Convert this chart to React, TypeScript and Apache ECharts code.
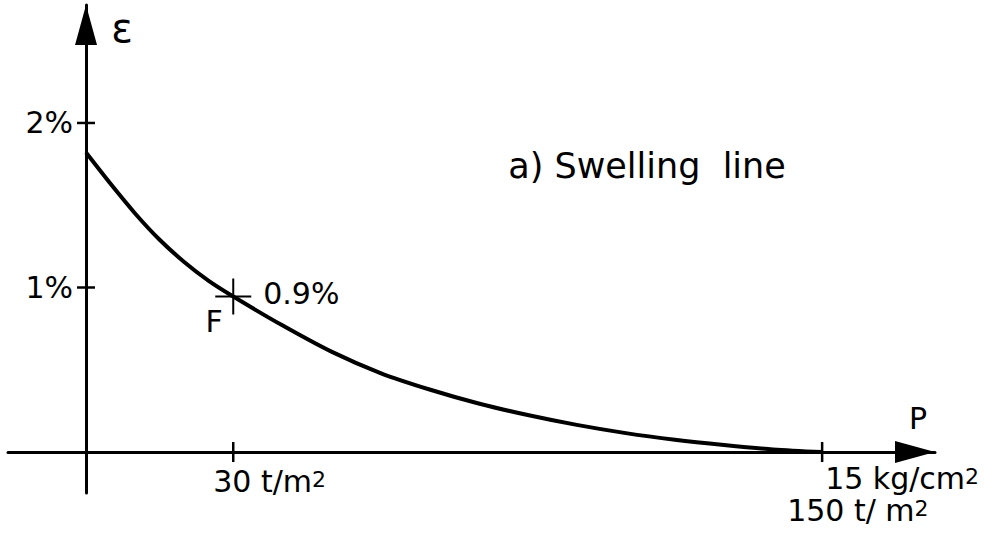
import React, { useEffect, useRef } from "react";
import * as echarts from "echarts";

// Swelling line: pressure P (t/m²) vs strain ε (%)
const pressureT = [0, 5, 10, 15, 20, 25, 30, 40, 50, 60, 70, 80, 90, 100, 110, 120, 130, 140, 150];
const strainPct = [1.82, 1.63, 1.45, 1.29, 1.155, 1.04, 0.945, 0.77, 0.61, 0.48, 0.38, 0.295, 0.225, 0.165, 0.115, 0.075, 0.043, 0.016, 0];

const yTicks = [1, 2];
const yTickLabels = ["1%", "2%"];
const xTicks = [30, 150];
const xTickLabels = ["30 t/m", "15 kg/cm"];
const xTickSecondLabel = "150 t/ m";
const pointF = [30, 0.945];
const pointFValue = "0.9%";
const pointFName = "F";
const titleText = "a) Swelling  line";
const xName = "P";
const yName = "ε";

const FONT = "DejaVu Sans";
const FS = 30;

export default function App() {
  const ref = useRef<HTMLDivElement>(null);
  useEffect(() => {
    if (!ref.current) return;
    const chart = echarts.init(ref.current, undefined, { renderer: "svg" });
    const rich = {
      a: { fontSize: FS, fontFamily: FONT, color: "#000", lineHeight: 26 },
      s: { fontSize: 22, fontFamily: FONT, color: "#000", verticalAlign: "top", lineHeight: 18 },
    };
    const axisCommon = {
      type: "value",
      axisLine: {
        show: true,
        onZero: true,
        symbol: ["none", "triangle"],
        symbolSize: [22, 40],
        symbolOffset: [0, -20],
        lineStyle: { color: "#000", width: 3 },
      },
      axisTick: { show: false },
      axisLabel: { show: false },
      splitLine: { show: false },
    };
    const labelBase = {
      show: true,
      fontSize: FS,
      fontFamily: FONT,
      color: "#000",
      opacity: 1,
    };
    chart.setOption({
      animation: false,
      backgroundColor: "#fff",
      grid: { left: 8, right: 60, top: 5, bottom: 46, containLabel: false, outerBoundsMode: "none" },
      xAxis: { ...axisCommon, min: -15.9, max: 173 },
      yAxis: { ...axisCommon, min: -0.249, max: 2.717 },
      series: [
        {
          type: "line",
          data: pressureT.map((p, i) => [p, strainPct[i]]),
          smooth: 0.3,
          symbol: "none",
          lineStyle: { color: "#000", width: 4 },
          z: 3,
        },
        {
          type: "scatter",
          z: 4,
          data: yTicks.map((v, i) => ({
            value: [0, v],
            label: { formatter: yTickLabels[i] },
          })),
          symbol: "rect",
          symbolSize: [18, 2.5],
          itemStyle: { color: "#000", opacity: 1 },
          label: { ...labelBase, position: "left", distance: 4 },
        },
        {
          type: "scatter",
          z: 4,
          symbol: "rect",
          symbolSize: [2.5, 20],
          itemStyle: { color: "#000", opacity: 1 },
          data: [
            ...xTicks.map((v, i) => ({
              value: [v, 0],
              label: {
                ...labelBase,
                position: "bottom",
                align: "left",
                distance: 3,
                offset: i === 0 ? [-20, 3] : [3, 0],
                formatter: "{a|" + xTickLabels[i] + "}{s|2}",
                rich,
              },
            })),
            {
              value: [xTicks[1], 0],
              symbolSize: 1,
              itemStyle: { color: "rgba(0,0,0,0)", opacity: 0 },
              label: {
                ...labelBase,
                position: "bottom",
                align: "left",
                distance: 14,
                offset: [-35, 31],
                formatter: "{a|" + xTickSecondLabel + "}{s|2}",
                rich,
              },
            },
          ],
        },
        {
          type: "scatter",
          z: 5,
          data: [
            {
              value: pointF,
              symbol: "path://M17,0 h2 v36 h-2 z M0,17 h36 v2 h-36 z",
              symbolSize: 36,
              itemStyle: { color: "#000", opacity: 1 },
              label: {
                ...labelBase,
                position: "right",
                distance: 12,
                offset: [0, -3],
                formatter: pointFValue,
              },
            },
            {
              value: pointF,
              symbol: "circle",
              symbolSize: 1,
              itemStyle: { color: "rgba(0,0,0,0)", opacity: 0 },
              label: {
                ...labelBase,
                position: "inside",
                offset: [-19, 25],
                formatter: pointFName,
              },
            },
          ],
        },
      ],
      graphic: [
        {
          type: "text",
          x: 647,
          y: 166,
          style: {
            text: titleText,
            fontSize: 35,
            fontFamily: FONT,
            fill: "#000",
            align: "center",
            verticalAlign: "middle",
          },
        },
        {
          type: "text",
          x: 918,
          y: 418,
          style: {
            text: xName,
            fontSize: FS,
            fontFamily: FONT,
            fill: "#000",
            align: "center",
            verticalAlign: "middle",
          },
        },
        {
          type: "text",
          x: 122,
          y: 28,
          style: {
            text: yName,
            fontSize: 40,
            fontFamily: FONT,
            fill: "#000",
            align: "center",
            verticalAlign: "middle",
          },
        },
      ],
    });
    return () => chart.dispose();
  }, []);
  return (
    <div
      ref={ref}
      style={{ position: "absolute", left: 0, top: 0, width: 995, height: 539 }}
    />
  );
}
